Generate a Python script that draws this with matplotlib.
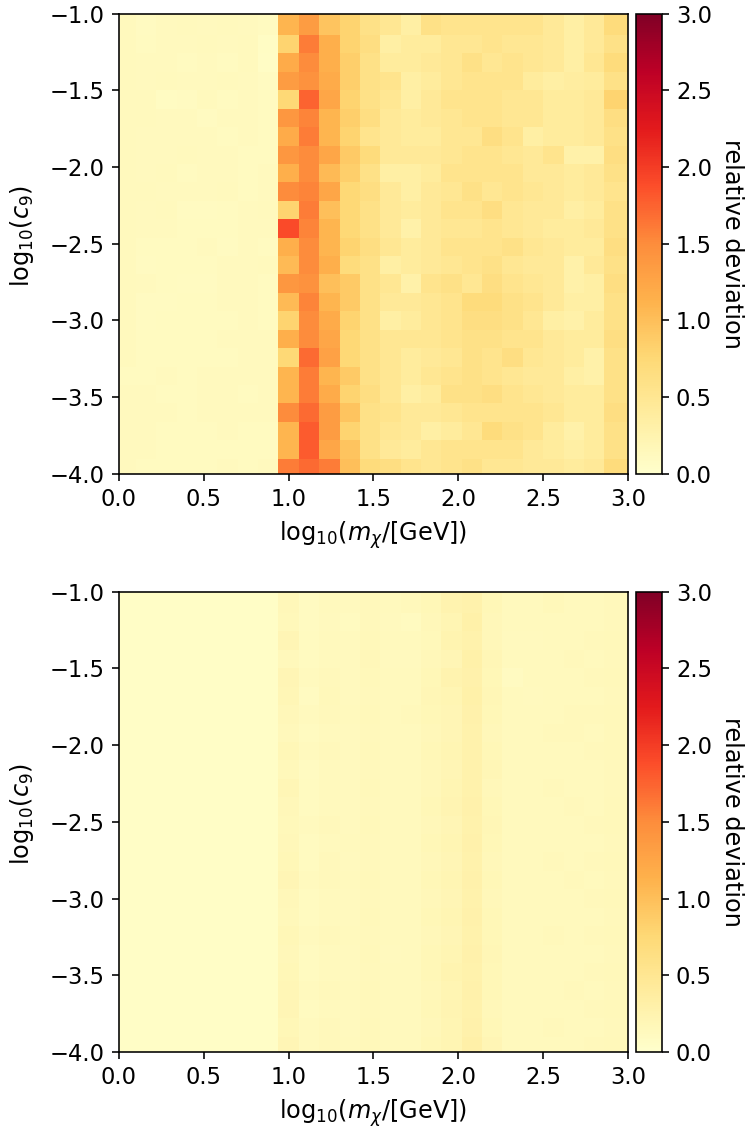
import numpy as np
import matplotlib
matplotlib.use("Agg")
import matplotlib.pyplot as plt

# grid edges in log10(m_chi) and log10(c9): 25 x 25 cells
x_edges = np.concatenate([[0.0], 0.10 + 0.12 * np.arange(24), [3.0]])
y_edges = np.concatenate([[-4.0], -3.90 + 0.12 * np.arange(24), [-1.0]])

# relative deviation, rows listed from top (log10 c9 = -1) to bottom (-4)
dev_top = [
    [0.14, 0.10, 0.12, 0.13, 0.12, 0.13, 0.12, 0.11, 1.10, 1.35, 0.95, 0.80, 0.60, 0.50, 0.35, 0.60, 0.55, 0.55, 0.55, 0.55, 0.55, 0.45, 0.35, 0.45, 0.70],
    [0.13, 0.11, 0.12, 0.12, 0.13, 0.12, 0.13, 0.08, 0.80, 1.60, 1.15, 0.80, 0.65, 0.35, 0.40, 0.40, 0.50, 0.50, 0.55, 0.50, 0.50, 0.45, 0.35, 0.45, 0.60],
    [0.14, 0.12, 0.12, 0.11, 0.12, 0.11, 0.13, 0.07, 1.20, 1.50, 1.15, 0.85, 0.60, 0.40, 0.40, 0.45, 0.50, 0.60, 0.50, 0.55, 0.50, 0.45, 0.35, 0.50, 0.70],
    [0.13, 0.12, 0.13, 0.12, 0.12, 0.13, 0.12, 0.10, 1.35, 1.45, 1.20, 0.85, 0.60, 0.55, 0.35, 0.40, 0.50, 0.55, 0.55, 0.55, 0.40, 0.35, 0.38, 0.40, 0.60],
    [0.14, 0.13, 0.09, 0.10, 0.13, 0.11, 0.12, 0.11, 0.75, 1.75, 1.25, 0.80, 0.60, 0.50, 0.35, 0.45, 0.55, 0.55, 0.55, 0.50, 0.50, 0.40, 0.40, 0.45, 0.80],
    [0.13, 0.14, 0.12, 0.12, 0.10, 0.12, 0.12, 0.11, 1.40, 1.55, 1.10, 0.85, 0.65, 0.45, 0.40, 0.45, 0.50, 0.55, 0.55, 0.50, 0.50, 0.40, 0.40, 0.45, 0.65],
    [0.14, 0.12, 0.12, 0.12, 0.12, 0.11, 0.12, 0.11, 1.20, 1.60, 1.10, 0.80, 0.55, 0.45, 0.40, 0.40, 0.50, 0.50, 0.65, 0.55, 0.35, 0.40, 0.40, 0.45, 0.60],
    [0.13, 0.12, 0.12, 0.13, 0.12, 0.12, 0.11, 0.11, 1.40, 1.50, 1.25, 0.90, 0.70, 0.45, 0.45, 0.45, 0.50, 0.55, 0.55, 0.50, 0.45, 0.55, 0.30, 0.30, 0.65],
    [0.13, 0.12, 0.13, 0.11, 0.12, 0.12, 0.11, 0.12, 1.15, 1.50, 1.05, 0.85, 0.60, 0.35, 0.35, 0.40, 0.55, 0.55, 0.55, 0.55, 0.45, 0.45, 0.40, 0.45, 0.60],
    [0.13, 0.13, 0.12, 0.12, 0.12, 0.13, 0.11, 0.12, 1.50, 1.55, 1.25, 0.75, 0.65, 0.45, 0.35, 0.45, 0.50, 0.60, 0.50, 0.55, 0.50, 0.45, 0.40, 0.45, 0.55],
    [0.13, 0.12, 0.13, 0.10, 0.10, 0.11, 0.12, 0.14, 0.80, 1.60, 1.00, 0.75, 0.60, 0.45, 0.40, 0.45, 0.55, 0.55, 0.65, 0.50, 0.45, 0.45, 0.35, 0.40, 0.60],
    [0.13, 0.12, 0.12, 0.11, 0.11, 0.11, 0.12, 0.12, 1.90, 1.55, 1.10, 0.75, 0.60, 0.45, 0.30, 0.45, 0.50, 0.50, 0.55, 0.50, 0.45, 0.40, 0.40, 0.45, 0.60],
    [0.13, 0.11, 0.11, 0.11, 0.12, 0.10, 0.12, 0.11, 1.15, 1.50, 1.10, 0.80, 0.65, 0.50, 0.40, 0.45, 0.55, 0.55, 0.55, 0.60, 0.50, 0.45, 0.40, 0.40, 0.65],
    [0.13, 0.10, 0.11, 0.11, 0.11, 0.12, 0.12, 0.13, 1.05, 1.50, 1.15, 0.70, 0.60, 0.35, 0.40, 0.45, 0.50, 0.55, 0.60, 0.50, 0.45, 0.45, 0.30, 0.45, 0.60],
    [0.13, 0.12, 0.11, 0.10, 0.10, 0.12, 0.12, 0.11, 1.40, 1.45, 1.00, 0.90, 0.60, 0.50, 0.30, 0.55, 0.60, 0.50, 0.65, 0.55, 0.50, 0.45, 0.30, 0.35, 0.65],
    [0.13, 0.10, 0.10, 0.11, 0.11, 0.12, 0.12, 0.11, 1.05, 1.55, 1.10, 0.90, 0.60, 0.45, 0.45, 0.50, 0.55, 0.70, 0.70, 0.60, 0.55, 0.45, 0.35, 0.35, 0.60],
    [0.13, 0.10, 0.11, 0.11, 0.11, 0.11, 0.12, 0.11, 0.80, 1.50, 1.20, 0.80, 0.60, 0.35, 0.40, 0.50, 0.55, 0.65, 0.65, 0.60, 0.50, 0.35, 0.30, 0.40, 0.60],
    [0.13, 0.11, 0.11, 0.11, 0.11, 0.12, 0.12, 0.12, 1.15, 1.50, 1.25, 0.75, 0.60, 0.50, 0.50, 0.50, 0.55, 0.60, 0.60, 0.55, 0.55, 0.45, 0.40, 0.40, 0.65],
    [0.13, 0.11, 0.11, 0.11, 0.11, 0.11, 0.12, 0.12, 0.75, 1.70, 1.30, 0.75, 0.60, 0.50, 0.40, 0.45, 0.50, 0.60, 0.55, 0.65, 0.50, 0.45, 0.40, 0.30, 0.60],
    [0.11, 0.11, 0.12, 0.11, 0.12, 0.12, 0.12, 0.12, 1.10, 1.60, 1.10, 0.90, 0.60, 0.50, 0.40, 0.50, 0.55, 0.60, 0.55, 0.50, 0.45, 0.45, 0.35, 0.30, 0.60],
    [0.12, 0.12, 0.11, 0.11, 0.12, 0.12, 0.11, 0.12, 1.10, 1.60, 1.20, 0.80, 0.65, 0.50, 0.35, 0.40, 0.60, 0.60, 0.65, 0.55, 0.50, 0.45, 0.40, 0.40, 0.60],
    [0.12, 0.12, 0.12, 0.11, 0.12, 0.12, 0.12, 0.12, 1.50, 1.70, 1.35, 0.95, 0.60, 0.55, 0.45, 0.45, 0.50, 0.55, 0.55, 0.55, 0.55, 0.50, 0.40, 0.40, 0.65],
    [0.12, 0.12, 0.11, 0.11, 0.11, 0.12, 0.11, 0.11, 1.10, 1.80, 1.35, 0.80, 0.60, 0.50, 0.45, 0.35, 0.40, 0.50, 0.70, 0.60, 0.55, 0.40, 0.30, 0.40, 0.60],
    [0.12, 0.12, 0.11, 0.11, 0.11, 0.11, 0.11, 0.11, 1.10, 1.80, 1.25, 0.95, 0.60, 0.45, 0.40, 0.50, 0.55, 0.55, 0.55, 0.55, 0.45, 0.40, 0.35, 0.40, 0.60],
    [0.12, 0.11, 0.11, 0.11, 0.11, 0.12, 0.11, 0.12, 1.60, 1.70, 1.60, 1.00, 0.70, 0.65, 0.55, 0.50, 0.55, 0.60, 0.50, 0.50, 0.45, 0.45, 0.40, 0.45, 0.70],
]

dev_bottom = [
    [0.05, 0.05, 0.05, 0.05, 0.05, 0.05, 0.05, 0.05, 0.17, 0.10, 0.14, 0.12, 0.15, 0.14, 0.15, 0.18, 0.25, 0.28, 0.18, 0.14, 0.14, 0.16, 0.13, 0.14, 0.15],
    [0.05, 0.05, 0.05, 0.05, 0.05, 0.05, 0.05, 0.05, 0.16, 0.10, 0.12, 0.11, 0.15, 0.12, 0.11, 0.17, 0.22, 0.30, 0.17, 0.14, 0.13, 0.14, 0.14, 0.14, 0.15],
    [0.05, 0.05, 0.05, 0.05, 0.05, 0.05, 0.05, 0.05, 0.20, 0.11, 0.13, 0.12, 0.16, 0.13, 0.13, 0.16, 0.24, 0.28, 0.17, 0.12, 0.12, 0.14, 0.14, 0.15, 0.16],
    [0.05, 0.05, 0.05, 0.05, 0.05, 0.05, 0.05, 0.05, 0.15, 0.11, 0.14, 0.12, 0.17, 0.12, 0.12, 0.17, 0.21, 0.30, 0.19, 0.14, 0.13, 0.13, 0.15, 0.14, 0.15],
    [0.05, 0.05, 0.05, 0.05, 0.05, 0.05, 0.05, 0.05, 0.20, 0.12, 0.15, 0.12, 0.16, 0.14, 0.13, 0.18, 0.25, 0.29, 0.18, 0.10, 0.13, 0.13, 0.14, 0.15, 0.16],
    [0.05, 0.05, 0.05, 0.05, 0.05, 0.05, 0.05, 0.05, 0.19, 0.10, 0.16, 0.12, 0.15, 0.13, 0.14, 0.19, 0.22, 0.30, 0.19, 0.13, 0.12, 0.14, 0.13, 0.13, 0.15],
    [0.05, 0.05, 0.05, 0.05, 0.05, 0.05, 0.05, 0.05, 0.17, 0.12, 0.15, 0.13, 0.16, 0.14, 0.15, 0.18, 0.20, 0.29, 0.18, 0.13, 0.13, 0.13, 0.15, 0.15, 0.16],
    [0.05, 0.05, 0.05, 0.05, 0.05, 0.05, 0.05, 0.05, 0.15, 0.11, 0.14, 0.12, 0.15, 0.14, 0.14, 0.17, 0.21, 0.28, 0.17, 0.14, 0.14, 0.15, 0.15, 0.14, 0.16],
    [0.05, 0.05, 0.05, 0.05, 0.05, 0.05, 0.05, 0.05, 0.18, 0.12, 0.15, 0.12, 0.16, 0.14, 0.13, 0.18, 0.22, 0.28, 0.18, 0.14, 0.14, 0.14, 0.14, 0.15, 0.16],
    [0.05, 0.05, 0.05, 0.05, 0.05, 0.05, 0.05, 0.05, 0.16, 0.10, 0.13, 0.12, 0.15, 0.13, 0.14, 0.17, 0.20, 0.27, 0.19, 0.14, 0.13, 0.14, 0.14, 0.13, 0.15],
    [0.05, 0.05, 0.05, 0.05, 0.05, 0.05, 0.05, 0.05, 0.19, 0.11, 0.14, 0.12, 0.16, 0.14, 0.14, 0.17, 0.22, 0.28, 0.17, 0.14, 0.14, 0.15, 0.14, 0.14, 0.15],
    [0.05, 0.05, 0.05, 0.05, 0.05, 0.05, 0.05, 0.05, 0.17, 0.11, 0.13, 0.12, 0.15, 0.14, 0.14, 0.18, 0.23, 0.29, 0.18, 0.13, 0.13, 0.14, 0.15, 0.14, 0.16],
    [0.05, 0.05, 0.05, 0.05, 0.05, 0.05, 0.05, 0.05, 0.16, 0.12, 0.15, 0.12, 0.16, 0.13, 0.13, 0.17, 0.21, 0.28, 0.19, 0.14, 0.14, 0.14, 0.14, 0.15, 0.16],
    [0.05, 0.05, 0.05, 0.05, 0.05, 0.05, 0.05, 0.05, 0.17, 0.11, 0.14, 0.13, 0.15, 0.14, 0.14, 0.18, 0.22, 0.29, 0.18, 0.14, 0.13, 0.14, 0.14, 0.14, 0.15],
    [0.05, 0.05, 0.05, 0.05, 0.05, 0.05, 0.05, 0.05, 0.18, 0.11, 0.15, 0.12, 0.15, 0.13, 0.14, 0.17, 0.21, 0.28, 0.17, 0.14, 0.14, 0.15, 0.14, 0.15, 0.16],
    [0.05, 0.05, 0.05, 0.05, 0.05, 0.05, 0.05, 0.05, 0.20, 0.12, 0.15, 0.13, 0.16, 0.14, 0.13, 0.18, 0.22, 0.29, 0.18, 0.14, 0.14, 0.14, 0.15, 0.14, 0.15],
    [0.05, 0.05, 0.05, 0.05, 0.05, 0.05, 0.05, 0.05, 0.17, 0.11, 0.14, 0.12, 0.15, 0.14, 0.14, 0.17, 0.21, 0.28, 0.17, 0.13, 0.14, 0.14, 0.14, 0.15, 0.16],
    [0.05, 0.05, 0.05, 0.05, 0.05, 0.05, 0.05, 0.05, 0.16, 0.11, 0.14, 0.12, 0.16, 0.13, 0.14, 0.18, 0.22, 0.29, 0.18, 0.14, 0.13, 0.14, 0.14, 0.14, 0.15],
    [0.05, 0.05, 0.05, 0.05, 0.05, 0.05, 0.05, 0.05, 0.18, 0.12, 0.15, 0.13, 0.15, 0.14, 0.14, 0.17, 0.21, 0.28, 0.18, 0.14, 0.14, 0.15, 0.14, 0.15, 0.16],
    [0.05, 0.05, 0.05, 0.05, 0.05, 0.05, 0.05, 0.05, 0.17, 0.11, 0.14, 0.12, 0.16, 0.12, 0.13, 0.18, 0.22, 0.29, 0.19, 0.14, 0.13, 0.14, 0.14, 0.14, 0.15],
    [0.05, 0.05, 0.05, 0.05, 0.05, 0.05, 0.05, 0.05, 0.18, 0.11, 0.14, 0.12, 0.15, 0.14, 0.14, 0.18, 0.24, 0.28, 0.18, 0.14, 0.14, 0.14, 0.14, 0.15, 0.16],
    [0.05, 0.05, 0.05, 0.05, 0.05, 0.05, 0.05, 0.05, 0.19, 0.12, 0.15, 0.13, 0.16, 0.14, 0.14, 0.17, 0.22, 0.29, 0.18, 0.14, 0.13, 0.14, 0.15, 0.14, 0.15],
    [0.05, 0.05, 0.05, 0.05, 0.05, 0.05, 0.05, 0.05, 0.20, 0.11, 0.14, 0.12, 0.15, 0.13, 0.14, 0.18, 0.23, 0.28, 0.17, 0.14, 0.14, 0.14, 0.14, 0.15, 0.16],
    [0.05, 0.05, 0.05, 0.05, 0.05, 0.05, 0.05, 0.05, 0.18, 0.12, 0.15, 0.12, 0.16, 0.14, 0.14, 0.17, 0.22, 0.29, 0.18, 0.14, 0.14, 0.15, 0.14, 0.14, 0.15],
    [0.05, 0.05, 0.05, 0.05, 0.05, 0.05, 0.05, 0.05, 0.21, 0.12, 0.15, 0.13, 0.16, 0.14, 0.14, 0.18, 0.22, 0.31, 0.20, 0.14, 0.14, 0.14, 0.14, 0.15, 0.16],
]

fig = plt.figure(figsize=(747 / 144, 1129 / 144), dpi=144)

panels = [(dev_top, 0.5802), (dev_bottom, 0.0682)]
for data, bottom in panels:
    ax = fig.add_axes([0.1593, bottom, 0.6814, 0.4078])
    cax = fig.add_axes([0.8514, bottom, 0.0348, 0.4078])
    z = np.array(data)[::-1]
    mesh = ax.pcolormesh(x_edges, y_edges, z, cmap="YlOrRd", vmin=0, vmax=3)
    ax.set_xlim(0, 3)
    ax.set_ylim(-4, -1)
    ax.set_xticks(np.arange(0, 3.01, 0.5))
    ax.set_yticks(np.arange(-4, -0.99, 0.5))
    ax.tick_params(labelsize=11.3)
    ax.set_xlabel(r"$\mathrm{log}_{10}(m_\chi/[\mathrm{GeV}])$", fontsize=12)
    ax.set_ylabel(r"$\mathrm{log}_{10}(c_9)$", fontsize=12)
    ax.yaxis.set_label_coords(-0.163, 0.517)
    cb = fig.colorbar(mesh, cax=cax)
    cb.set_ticks(np.arange(0, 3.01, 0.5))
    cb.ax.tick_params(labelsize=11.3)
    cb.set_label("relative deviation", rotation=270, labelpad=16, fontsize=12)

fig.savefig("out.png", dpi=144)
